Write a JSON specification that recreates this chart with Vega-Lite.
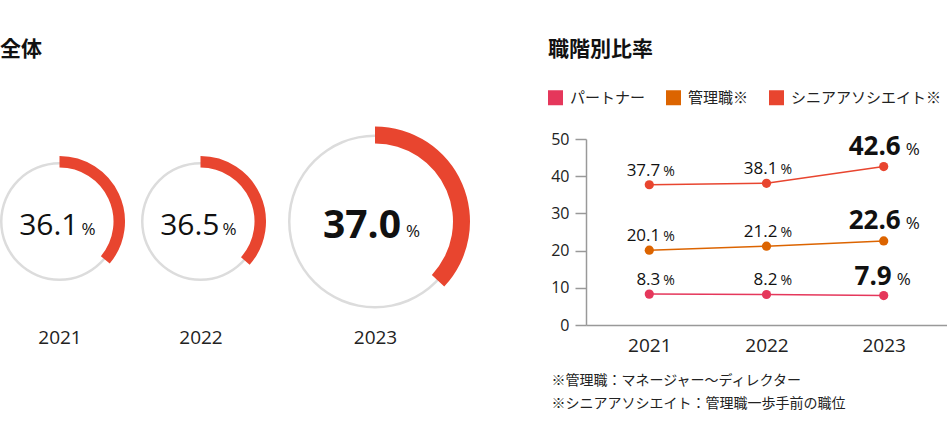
{
  "$schema": "https://vega.github.io/schema/vega-lite/v6.json",
  "padding": {"left": 0, "top": 38, "right": 0, "bottom": 0},
  "background": "white",
  "spacing": 76,
  "config": {"view": {"stroke": null}, "font": "Noto Sans CJK JP"},
  "resolve": {"scale": {"color": "independent"}, "legend": {"color": "independent"}},
  "hconcat": [
    {
      "title": {"text": "全体", "anchor": "start", "frame": "group", "fontSize": 21, "fontWeight": "bold", "font": "Noto Sans CJK JP", "offset": 67, "color": "#111"},
      "width": 472,
      "height": 165,
      "data": {"values": [
        {"year": 2021, "rate": 36.1},
        {"year": 2022, "rate": 36.5},
        {"year": 2023, "rate": 37.0}
      ]},
      "encoding": {
        "x": {
          "field": "year", "type": "quantitative", "stack": null,
          "scale": {"domain": [2021, 2022, 2023], "range": [59.5, 200.5, 375], "nice": false, "zero": false},
          "axis": {"tickCount": 3, "format": "d", "domain": false, "ticks": false, "grid": false, "title": null, "labelOverlap": false, "labelFlush": false, "labelBound": false, "labelFontSize": 19, "labelFont": "Open Sans", "labelColor": "#222", "labelPadding": 24}
        }
      },
      "layer": [
        {
          "transform": [{"filter": "datum.year < 2023"}],
          "mark": {"type": "arc", "radius": 59.5, "radius2": 57, "theta": 0, "theta2": 6.2832, "color": "#dcdcdc"}
        },
        {
          "transform": [{"filter": "datum.year == 2023"}],
          "mark": {"type": "arc", "radius": 87, "radius2": 84.5, "theta": 0, "theta2": 6.2832, "color": "#dcdcdc"}
        },
        {
          "transform": [{"filter": "datum.year < 2023"}],
          "mark": {"type": "arc", "radius": 65.5, "radius2": 54, "color": "#e8452f"},
          "encoding": {
            "theta": {"field": "rate", "type": "quantitative", "scale": {"domain": [0, 100], "range": [0, 6.2832]}},
            "theta2": {"datum": 0}
          }
        },
        {
          "transform": [{"filter": "datum.year == 2023"}],
          "mark": {"type": "arc", "radius": 95, "radius2": 78, "color": "#e8452f"},
          "encoding": {
            "theta": {"field": "rate", "type": "quantitative", "scale": {"domain": [0, 100], "range": [0, 6.2832]}},
            "theta2": {"datum": 0}
          }
        },
        {
          "transform": [{"filter": "datum.year < 2023"}],
          "mark": {"type": "text", "font": "Open Sans", "fontSize": 30, "align": "right", "baseline": "alphabetic", "dx": 19, "dy": 13, "color": "#111"},
          "encoding": {"text": {"field": "rate", "type": "quantitative", "format": ".1f"}}
        },
        {
          "transform": [{"filter": "datum.year < 2023"}],
          "mark": {"type": "text", "text": "%", "font": "Open Sans", "fontSize": 17, "align": "left", "baseline": "alphabetic", "dx": 22, "dy": 13, "color": "#111"}
        },
        {
          "transform": [{"filter": "datum.year == 2023"}],
          "mark": {"type": "text", "font": "Open Sans", "fontSize": 39, "fontWeight": "bold", "align": "right", "baseline": "alphabetic", "dx": 26, "dy": 16, "color": "#111"},
          "encoding": {"text": {"field": "rate", "type": "quantitative", "format": ".1f"}}
        },
        {
          "transform": [{"filter": "datum.year == 2023"}],
          "mark": {"type": "text", "text": "%", "font": "Open Sans", "fontSize": 17, "align": "left", "baseline": "alphabetic", "dx": 31, "dy": 15, "color": "#111"}
        }
      ]
    },
    {
      "title": {"text": "職階別比率", "anchor": "start", "frame": "group", "fontSize": 21, "fontWeight": "bold", "font": "Noto Sans CJK JP", "offset": 30, "dx": -38, "color": "#111"},
      "width": 361,
      "height": 186,
      "data": {"values": [
        {"year": 2021, "series": "パートナー", "value": 8.3},
        {"year": 2022, "series": "パートナー", "value": 8.2},
        {"year": 2023, "series": "パートナー", "value": 7.9},
        {"year": 2021, "series": "管理職", "value": 20.1},
        {"year": 2022, "series": "管理職", "value": 21.2},
        {"year": 2023, "series": "管理職", "value": 22.6},
        {"year": 2021, "series": "シニアアソシエイト", "value": 37.7},
        {"year": 2022, "series": "シニアアソシエイト", "value": 38.1},
        {"year": 2023, "series": "シニアアソシエイト", "value": 42.6}
      ]},
      "encoding": {
        "x": {
          "field": "year", "type": "ordinal",
          "scale": {"type": "point", "padding": 0.54},
          "axis": {
            "labelAngle": 0, "ticks": false, "grid": false, "labelFontSize": 19, "labelFont": "Open Sans", "labelColor": "#222", "labelPadding": 11,
            "domainColor": "#999", "domainWidth": 1.5,
            "title": ["※管理職：マネージャー～ディレクター", "※シニアアソシエイト：管理職一歩手前の職位"],
            "titleFont": "Noto Sans CJK JP", "titleFontSize": 14, "titleFontWeight": "normal", "titleColor": "#222",
            "titleAlign": "left", "titleAnchor": "start", "titleBaseline": "top", "titleX": -35, "titleY": 48, "titleLineHeight": 23
          }
        },
        "y": {
          "field": "value", "type": "quantitative",
          "scale": {"domain": [0, 50], "nice": false},
          "axis": {"values": [0, 10, 20, 30, 40, 50], "grid": false, "title": null, "tickSize": 11, "labelPadding": 6, "labelFontSize": 16, "labelFont": "Open Sans", "labelColor": "#222", "domainColor": "#999", "tickColor": "#999", "domainWidth": 1.5, "tickWidth": 1.5}
        }
      },
      "layer": [
        {
          "mark": {"type": "point", "filled": true, "size": 85, "opacity": 1},
          "encoding": {
            "color": {"field": "series", "type": "nominal",
              "scale": {"domain": ["パートナー", "管理職", "シニアアソシエイト"], "range": ["#e5375b", "#dc6400", "#e8452f"]},
              "legend": {
                "title": null, "orient": "none", "direction": "horizontal", "legendX": -38, "legendY": -49,
                "symbolType": "square", "symbolSize": 225, "symbolStrokeWidth": 0, "symbolOpacity": 1,
                "labelFont": "Noto Sans CJK JP", "labelFontSize": 15, "labelColor": "#222", "labelOffset": 7, "columnPadding": 20, "labelLimit": 260,
                "labelExpr": "datum.label == 'パートナー' ? datum.label : datum.label + '※'"
              }
            }
          }
        },
        {
          "mark": {"type": "line", "strokeWidth": 1.5},
          "encoding": {
            "color": {"field": "series", "type": "nominal",
              "scale": {"domain": ["パートナー", "管理職", "シニアアソシエイト"], "range": ["#e5375b", "#dc6400", "#e8452f"]}}
          }
        },
        {
          "transform": [{"filter": "datum.year < 2023"}],
          "mark": {"type": "text", "font": "Open Sans", "fontSize": 17, "align": "right", "baseline": "alphabetic", "dx": 11, "dy": -9, "color": "#111"},
          "encoding": {"text": {"field": "value", "type": "quantitative", "format": ".1f"}}
        },
        {
          "transform": [{"filter": "datum.year < 2023"}],
          "mark": {"type": "text", "text": "%", "font": "Open Sans", "fontSize": 14, "align": "left", "baseline": "alphabetic", "dx": 14, "dy": -9, "color": "#111"}
        },
        {
          "transform": [{"filter": "datum.year == 2023 && datum.value >= 10"}],
          "mark": {"type": "text", "font": "Open Sans", "fontSize": 26, "fontWeight": "bold", "align": "right", "baseline": "alphabetic", "dx": 17, "dy": -12, "color": "#111"},
          "encoding": {"text": {"field": "value", "type": "quantitative", "format": ".1f"}}
        },
        {
          "transform": [{"filter": "datum.year == 2023 && datum.value >= 10"}],
          "mark": {"type": "text", "text": "%", "font": "Open Sans", "fontSize": 17, "align": "left", "baseline": "alphabetic", "dx": 22, "dy": -12, "color": "#111"}
        },
        {
          "transform": [{"filter": "datum.year == 2023 && datum.value < 10"}],
          "mark": {"type": "text", "font": "Open Sans", "fontSize": 26, "fontWeight": "bold", "align": "right", "baseline": "alphabetic", "dx": 8, "dy": -11, "color": "#111"},
          "encoding": {"text": {"field": "value", "type": "quantitative", "format": ".1f"}}
        },
        {
          "transform": [{"filter": "datum.year == 2023 && datum.value < 10"}],
          "mark": {"type": "text", "text": "%", "font": "Open Sans", "fontSize": 17, "align": "left", "baseline": "alphabetic", "dx": 13, "dy": -11, "color": "#111"}
        }
      ]
    }
  ]
}
